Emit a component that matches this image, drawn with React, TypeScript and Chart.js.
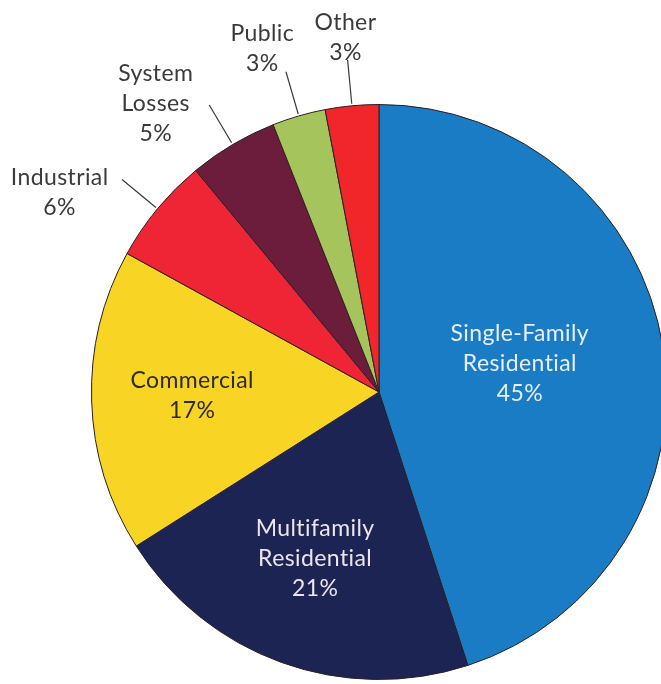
import React, { useEffect, useRef } from "react";
import { Chart, registerables } from "chart.js";

Chart.register(...registerables);

const categories = [
  "Single-Family Residential",
  "Multifamily Residential",
  "Commercial",
  "Industrial",
  "System Losses",
  "Public",
  "Other",
];
const shares = [45, 21, 17, 6, 5, 3, 3];
const labelLines = [
  ["Single-Family", "Residential", "45%"],
  ["Multifamily", "Residential", "21%"],
  ["Commercial", "17%"],
  ["Industrial", "6%"],
  ["System", "Losses", "5%"],
  ["Public", "3%"],
  ["Other", "3%"],
];
const colors = ["#1b7cc6", "#1b2453", "#f8d424", "#ef2535", "#6c1d3c", "#a6c45c", "#f1262a"];
const textColors = ["#e6eef8", "#ece4ee", "#2e2a1c", "#3a3a3a", "#3a3a3a", "#3a3a3a", "#3a3a3a"];
// label placement style: radius factor, angle offset (deg), leader line (outside labels)
const labelStyle = [
  { r: 0.5, off: -2.5, leader: false },
  { r: 0.62, off: 1.2, leader: false },
  { r: 0.65, off: 0.6, leader: false },
  { r: 1.31, off: -7.6, leader: true },
  { r: 1.27, off: -7.1, leader: true },
  { r: 1.26, off: -2.6, leader: true },
  { r: 1.24, off: 0, leader: true },
];

const CX = 379;
const CY = 392;
const R = 288;
const W = CX * 2;
const H = CY * 2;

const labelPlugin = {
  id: "pieLabels",
  afterDatasetsDraw(chart: any) {
    const ctx = chart.ctx;
    const meta = chart.getDatasetMeta(0);
    ctx.save();
    ctx.font = "23px Lato";
    try {
      (ctx as any).letterSpacing = "0.4px";
    } catch (e) {}
    ctx.textAlign = "center";
    ctx.textBaseline = "middle";
    meta.data.forEach((arc: any, i: number) => {
      const st = labelStyle[i];
      const mid = (arc.startAngle + arc.endAngle) / 2;
      const rad = arc.outerRadius;
      if (st.leader) {
        ctx.strokeStyle = "#3a3a3a";
        ctx.lineWidth = 1.2;
        ctx.beginPath();
        ctx.moveTo(arc.x + Math.cos(mid) * (rad + 2), arc.y + Math.sin(mid) * (rad + 2));
        ctx.lineTo(arc.x + Math.cos(mid) * rad * 1.16, arc.y + Math.sin(mid) * rad * 1.16);
        ctx.stroke();
      }
      const a = mid + (st.off * Math.PI) / 180;
      const x = arc.x + Math.cos(a) * rad * st.r;
      const y = arc.y + Math.sin(a) * rad * st.r;
      const lines = labelLines[i];
      const lh = 30;
      ctx.fillStyle = textColors[i];
      lines.forEach((t, j) => {
        ctx.fillText(t, x, y + (j - (lines.length - 1) / 2) * lh);
      });
    });
    ctx.restore();
  },
};

export default function App() {
  const ref = useRef<HTMLCanvasElement | null>(null);
  useEffect(() => {
    if (!ref.current) return;
    const chart = new Chart(ref.current, {
      type: "pie",
      data: {
        labels: categories,
        datasets: [
          {
            data: shares,
            backgroundColor: colors,
            borderColor: "#2a2024",
            borderWidth: 1,
          },
        ],
      },
      options: {
        responsive: false,
        animation: false,
        events: [],
        layout: {
          padding: { left: CX - R, right: CX - R, top: CY - R, bottom: CY - R },
        },
        plugins: {
          legend: { display: false },
          tooltip: { enabled: false },
        },
      },
      plugins: [labelPlugin],
    });
    return () => chart.destroy();
  }, []);
  return (
    <div
      style={{
        position: "fixed",
        left: 0,
        top: 0,
        width: 661,
        height: 684,
        overflow: "hidden",
        background: "#ffffff",
      }}
    >
      <canvas ref={ref} width={W} height={H} style={{ position: "absolute", left: 0, top: 0, width: W, height: H }} />
    </div>
  );
}
